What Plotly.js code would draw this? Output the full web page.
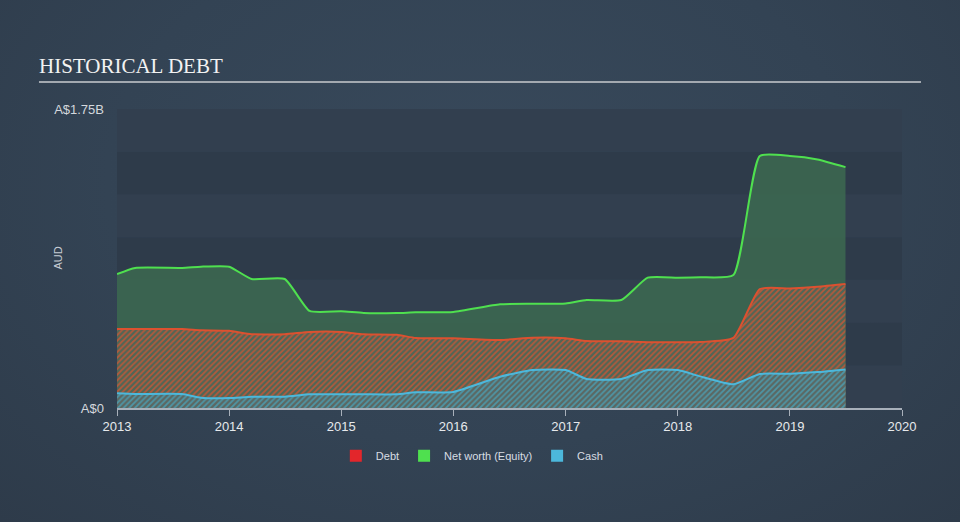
<!DOCTYPE html>
<html>
<head>
<meta charset="utf-8">
<script src="https://cdn.plot.ly/plotly-3.0.1.min.js"></script>
<style>
html,body{margin:0;padding:0;width:960px;height:522px;overflow:hidden;
background:radial-gradient(ellipse at 50% 35%, #38495b 0%, #334354 55%, #2e3b4a 100%);}
#chart{width:960px;height:522px;}
</style>
</head>
<body>
<div id="chart"></div>
<script>
const dates = ['2013-01-01','2013-03-01','2013-08-01','2013-10-01','2014-01-01','2014-03-15','2014-07-01','2014-09-20','2015-01-01','2015-03-15','2015-07-01','2015-09-01','2016-01-01','2016-06-01','2016-09-15','2017-01-01','2017-03-10','2017-07-01','2017-09-25','2018-01-01','2018-03-15','2018-07-01','2018-09-25','2019-01-01','2019-04-01','2019-07-01'];
const netWorth = [0.784,0.82,0.82,0.827,0.827,0.755,0.755,0.568,0.566,0.556,0.556,0.56,0.562,0.607,0.61,0.612,0.632,0.632,0.763,0.763,0.765,0.778,1.475,1.475,1.455,1.41];
const debt = [0.462,0.462,0.462,0.455,0.452,0.432,0.432,0.445,0.445,0.432,0.428,0.41,0.408,0.398,0.411,0.408,0.392,0.39,0.385,0.385,0.386,0.41,0.696,0.7,0.71,0.726];
const cash = [0.086,0.082,0.082,0.06,0.058,0.066,0.066,0.08,0.08,0.08,0.08,0.092,0.094,0.183,0.222,0.222,0.17,0.17,0.222,0.222,0.185,0.139,0.199,0.2,0.21,0.226];
const xTicks = ['2013-01-01','2014-01-01','2015-01-01','2016-01-01','2017-01-01','2018-01-01','2019-01-01','2020-01-01'];
const xTickText = ['2013','2014','2015','2016','2017','2018','2019','2020'];
const yTicks = [0,1.75];
const yTickText = ['A$0','A$1.75B'];
const bandEdges = [0,0.25,0.5,0.75,1.0,1.25,1.5,1.75];
const seriesNames = ['Debt','Net worth (Equity)','Cash'];
const legendColors = ['#e3262b','#4fe04f','#4cb8dc'];

const font = 'Arial, "Liberation Sans", sans-serif';
const traces = [
  {x:dates,y:netWorth,type:'scatter',mode:'lines',line:{color:'#4fe04f',width:2,shape:'spline',smoothing:0.5},
   fill:'tozeroy',fillcolor:'rgba(60,106,80,0.85)',showlegend:false,hoverinfo:'skip'},
  {x:dates,y:debt,type:'scatter',mode:'lines',line:{color:'#dc5130',width:2,shape:'spline',smoothing:0.5},
   fill:'tozeroy',fillcolor:'#4f6656',fillpattern:{shape:'/',fgcolor:'#b5593c',bgcolor:'#4f6656',size:4,solidity:0.45},
   showlegend:false,hoverinfo:'skip'},
  {x:dates,y:cash,type:'scatter',mode:'lines',line:{color:'#4cb8dc',width:2,shape:'spline',smoothing:0.5},
   fill:'tozeroy',fillcolor:'#5b6762',fillpattern:{shape:'/',fgcolor:'#4e96a6',bgcolor:'#5b6762',size:4,solidity:0.45},
   showlegend:false,hoverinfo:'skip'}
];
seriesNames.forEach((n,i)=>{
  traces.push({x:[null],y:[null],type:'scatter',mode:'markers',name:n,
    marker:{symbol:'square',size:12,color:legendColors[i]},showlegend:true});
});

const shapes = [];
for(let i=0;i<bandEdges.length-1;i++){
  shapes.push({type:'rect',xref:'x domain',yref:'y',x0:0,x1:1,y0:bandEdges[i],y1:bandEdges[i+1],
    fillcolor: i%2===0 ? '#323f4f' : '#2e3b4a', line:{width:0}, layer:'below'});
}
shapes.push({type:'line',xref:'paper',yref:'paper',x0:-0.0994,x1:1.0242,y0:1.0903,y1:1.0903,
  line:{color:'#a3a9b0',width:2}});

const layout = {
  width:960,height:522,
  margin:{l:117,r:58,t:109,b:114},
  paper_bgcolor:'rgba(0,0,0,0)',plot_bgcolor:'rgba(0,0,0,0)',
  font:{family:font,color:'#d8dde3'},
  xaxis:{type:'date',range:['2013-01-01','2020-01-01'],tickvals:xTicks,ticktext:xTickText,
    showgrid:false,zeroline:false,showline:true,linecolor:'#a8b0ba',linewidth:1.5,
    ticks:'outside',ticklen:6,tickcolor:'#a8b0ba',tickfont:{size:13,color:'#e6e9ec',family:font}},
  yaxis:{range:[0,1.75],tickvals:yTicks,ticktext:yTickText,showgrid:false,zeroline:false,showline:false,
    ticks:'',ticklabelstandoff:12,tickfont:{size:13,color:'#d4d8dd',family:font}},
  showlegend:true,
  legend:{orientation:'h',x:0.452,xanchor:'center',y:-0.16,yanchor:'middle',
    font:{size:11,color:'#d8dde3',family:font},bgcolor:'rgba(0,0,0,0)'},
  shapes:shapes,
  annotations:[
    {text:'HISTORICAL DEBT',xref:'paper',yref:'paper',x:-0.102,y:1.144,xanchor:'left',yanchor:'middle',
     showarrow:false,font:{family:'"Liberation Serif", "Times New Roman", serif',size:21,color:'#f2f2f2'}},
    {text:'AUD',xref:'paper',yref:'paper',x:-0.0764,y:0.5,xanchor:'center',yanchor:'middle',textangle:-90,
     showarrow:false,font:{family:font,size:11,color:'#c8ced5'}}
  ]
};
Plotly.newPlot('chart',traces,layout,{displayModeBar:false,staticPlot:true});
</script>
</body>
</html>
